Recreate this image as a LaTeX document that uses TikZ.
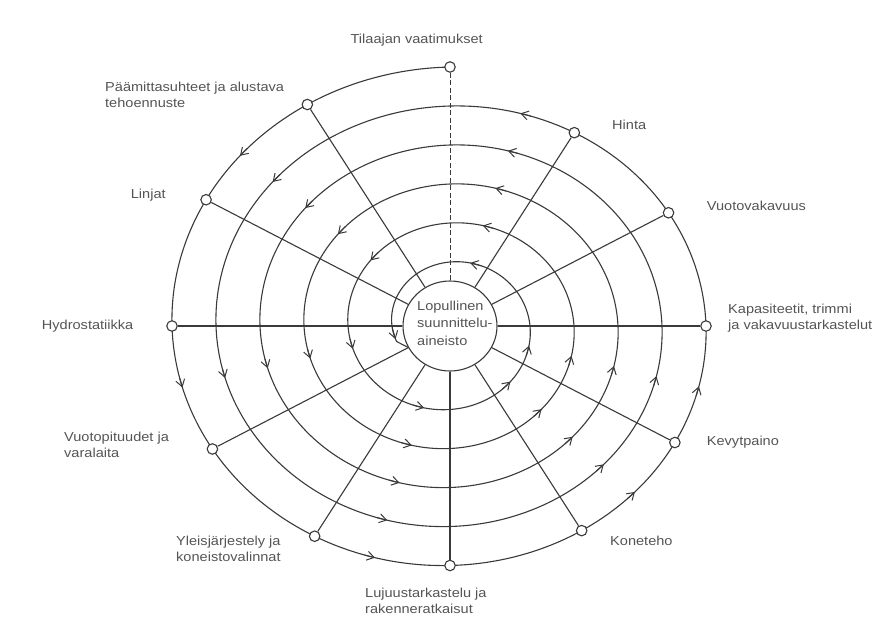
\documentclass[tikz,border=0pt]{standalone}
\usepackage{fontspec}
\setmainfont{Liberation Sans}[FakeStretch=1.12]
\usetikzlibrary{arrows.meta,shapes.geometric}
\definecolor{ink}{HTML}{3A3A3A}
\definecolor{txt}{HTML}{555555}
\begin{document}
\begin{tikzpicture}[x=1pt,y=-1pt,
  declare function={sx(\t)=450-(289-44*\t)*sin(360*\t); sy(\t)=326-(259-39*\t)*cos(360*\t); dd(\t)=1.6/(270-42*\t);},
  line/.style={draw=ink, line width=1.1pt},
  dot/.style={circle, draw=ink, fill=white, line width=1.1pt, minimum size=10.5pt, inner sep=0pt},
  lbl/.style={text=txt, font=\fontsize{13}{15.5}\selectfont, align=left, inner sep=0pt},
  arr/.style={draw=ink, line width=1pt, -{Straight Barb[length=7pt,width=9pt]}}]
\fill[white] (0,0) rectangle (894,643);
\useasboundingbox (0,0) rectangle (894,643);
% spiral
\draw[line] plot[domain=0:5.3, samples=800, smooth] ({sx(\x)},{sy(\x)}) -- ({450-47*cos(29)},{326+45*sin(29)});
% arrows
\foreach \t in {0.133,1.133,2.133,3.133,4.133,
                0.29,1.29,2.29,3.29,4.29,5.29,
                0.455,1.455,2.455,3.455,4.455,
                0.625,1.625,2.625,3.625,4.625,
                0.708,1.708,2.708,3.708,4.708,
                0.954,1.954,2.954,3.954,4.954}
  \draw[arr] ({sx(\t-dd(\t))},{sy(\t-dd(\t))}) -- ({sx(\t)},{sy(\t)});
% centre
\node[ellipse, draw=ink, fill=white, line width=1.1pt, minimum width=94pt, minimum height=90pt, inner sep=0pt] (c) at (450,326) {};
\node[lbl, anchor=west, font=\fontsize{13}{17.5}\selectfont] (ct) at (417,323) {Lopullinen\\suunnittelu-\\aineisto};
% nodes on the outer turn
\foreach \k in {0,...,11}
  \node[dot] (n\k) at ({sx(\k/12)},{sy(\k/12)}) {};
% radial lines
\draw[line, line width=0.9pt, dash pattern=on 5pt off 2.5pt] (n0) -- (c);
\foreach \k in {1,...,11}
  \draw[line] (n\k) -- (c);
% labels
\node[lbl] (l0) at (416.7,40) {Tilaajan vaatimukset};
\node[lbl, anchor=west] (l1) at (105,94.7) {Päämittasuhteet ja alustava\\tehoennuste};
\node[lbl, anchor=west] (l2) at (130.7,195.5) {Linjat};
\node[lbl, anchor=west] (l3) at (41.7,326) {Hydrostatiikka};
\node[lbl, anchor=west] (l4) at (64,445) {Vuotopituudet ja\\varalaita};
\node[lbl, anchor=west] (l5) at (176,549) {Yleisjärjestely ja\\koneistovalinnat};
\node[lbl, anchor=west] (l6) at (365,601) {Lujuustarkastelu ja\\rakenneratkaisut};
\node[lbl, anchor=west] (l7) at (610,541) {Koneteho};
\node[lbl, anchor=west] (l8) at (706.7,442) {Kevytpaino};
\node[lbl, anchor=west] (l9) at (728,318) {Kapasiteetit, trimmi\\ja vakavuustarkastelut};
\node[lbl, anchor=west] (l10) at (706.7,206) {Vuotovakavuus};
\node[lbl, anchor=west] (l11) at (612,125) {Hinta};
\end{tikzpicture}
\end{document}
